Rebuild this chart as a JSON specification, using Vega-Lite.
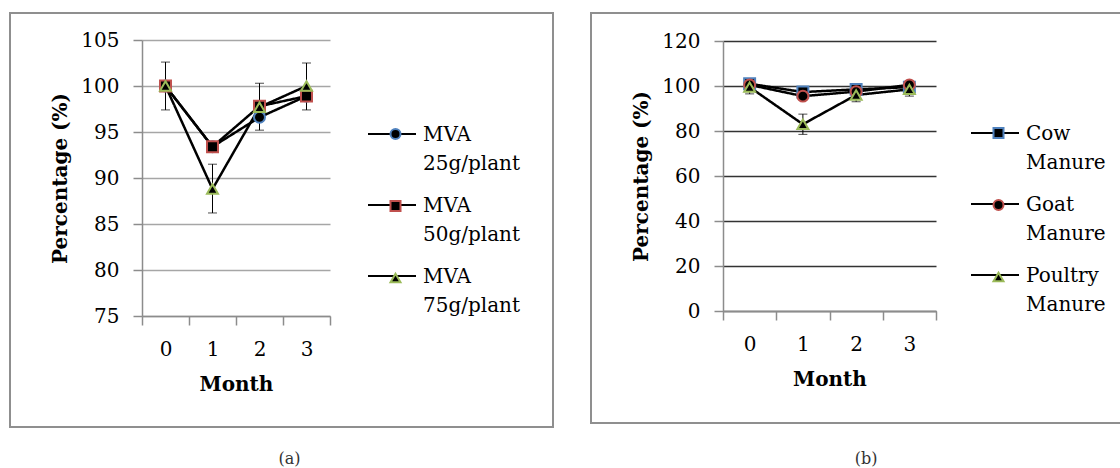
{
  "$schema": "https://vega.github.io/schema/vega-lite/v6.json",
  "padding": {"left": 9, "top": 12, "right": 0, "bottom": 0},
  "spacing": 36,
  "background": "white",
  "resolve": {
    "scale": {"x": "independent", "y": "independent", "shape": "independent", "stroke": "independent", "strokeDash": "independent"},
    "legend": {"shape": "independent", "stroke": "independent", "strokeDash": "independent"}
  },
  "datasets": {
    "a": [
      {"month": 0, "series": "MVA 25g/plant", "value": 100},
      {"month": 1, "series": "MVA 25g/plant", "value": 93.4},
      {"month": 2, "series": "MVA 25g/plant", "value": 96.6},
      {"month": 3, "series": "MVA 25g/plant", "value": 98.9},
      {"month": 0, "series": "MVA 50g/plant", "value": 100},
      {"month": 1, "series": "MVA 50g/plant", "value": 93.4},
      {"month": 2, "series": "MVA 50g/plant", "value": 97.8},
      {"month": 3, "series": "MVA 50g/plant", "value": 98.9},
      {"month": 0, "series": "MVA 75g/plant", "value": 100},
      {"month": 1, "series": "MVA 75g/plant", "value": 88.8},
      {"month": 2, "series": "MVA 75g/plant", "value": 97.7},
      {"month": 3, "series": "MVA 75g/plant", "value": 100}
    ],
    "aErr": [
      {"month": 0, "lo": 97.4, "hi": 102.6},
      {"month": 1, "lo": 86.2, "hi": 91.5},
      {"month": 2, "lo": 95.2, "hi": 100.3},
      {"month": 3, "lo": 97.4, "hi": 102.5}
    ],
    "b": [
      {"month": 0, "series": "Cow Manure", "value": 101},
      {"month": 1, "series": "Cow Manure", "value": 97.3},
      {"month": 2, "series": "Cow Manure", "value": 98.5},
      {"month": 3, "series": "Cow Manure", "value": 99.5},
      {"month": 0, "series": "Goat Manure", "value": 100.5},
      {"month": 1, "series": "Goat Manure", "value": 95.5},
      {"month": 2, "series": "Goat Manure", "value": 97.5},
      {"month": 3, "series": "Goat Manure", "value": 100.5},
      {"month": 0, "series": "Poultry Manure", "value": 99.5},
      {"month": 1, "series": "Poultry Manure", "value": 83},
      {"month": 2, "series": "Poultry Manure", "value": 96},
      {"month": 3, "series": "Poultry Manure", "value": 98.5}
    ],
    "bErr": [
      {"month": 0, "lo": 96.5, "hi": 102.5},
      {"month": 1, "lo": 78.5, "hi": 87.5},
      {"month": 2, "lo": 93, "hi": 99},
      {"month": 3, "lo": 95.5, "hi": 101.5}
    ]
  },
  "config": {
    "font": "DejaVu Serif",
    "view": {"stroke": "#8f8f8f", "strokeWidth": 2},
    "axis": {
      "labelFont": "DejaVu Serif", "labelFontSize": 20, "labelColor": "#000",
      "titleFont": "DejaVu Serif", "titleFontSize": 20, "titleFontWeight": "bold", "titleColor": "#000",
      "domainColor": "#8c8c8c", "tickColor": "#8c8c8c", "domainWidth": 1.5, "tickWidth": 1.5,
      "tickSize": 9, "labelPadding": 14, "titlePadding": 10
    },
    "axisX": {"titlePadding": 15},
    "legend": {"labelFont": "DejaVu Serif", "labelFontSize": 20, "labelColor": "#000"},
    "style": {"guide-label": {"lineHeight": 29}},
    "title": {"font": "DejaVu Serif", "fontSize": 16, "fontWeight": "normal", "color": "#333"}
  },
  "hconcat": [
    {
      "width": 543,
      "height": 414,
      "title": {"text": "(a)", "orient": "bottom", "offset": 24, "dx": 8},
      "layer": [
        {
          "data": {"name": "aErr"},
          "mark": {"type": "rule", "color": "black", "strokeWidth": 1},
          "encoding": {
            "x": {"field": "month", "type": "ordinal",
              "scale": {"type": "band", "domain": [0, 1, 2, 3], "range": [132, 320], "paddingInner": 0, "paddingOuter": 0},
              "axis": {"title": "Month", "labelAngle": 0, "tickBand": "extent", "offset": -111, "grid": false}},
            "y": {"field": "lo", "type": "quantitative",
              "scale": {"domain": [75, 105], "range": [303, 27], "nice": false, "zero": false},
              "axis": {"title": "Percentage (%)", "values": [75, 80, 85, 90, 95, 100, 105], "offset": -132, "grid": true, "gridColor": "#a6a6a6", "gridWidth": 1.5}},
            "y2": {"field": "hi"}
          }
        },
        {
          "data": {"name": "aErr"},
          "mark": {"type": "tick", "color": "black", "thickness": 1, "size": 9},
          "encoding": {"x": {"field": "month", "type": "ordinal"}, "y": {"field": "lo", "type": "quantitative"}}
        },
        {
          "data": {"name": "aErr"},
          "mark": {"type": "tick", "color": "black", "thickness": 1, "size": 9},
          "encoding": {"x": {"field": "month", "type": "ordinal"}, "y": {"field": "hi", "type": "quantitative"}}
        },
        {
          "data": {"name": "a"},
          "mark": {"type": "line", "color": "black", "strokeWidth": 2.5},
          "encoding": {
            "x": {"field": "month", "type": "ordinal"},
            "y": {"field": "value", "type": "quantitative"},
            "detail": {"field": "series", "type": "nominal"},
            "strokeDash": {"field": "series", "type": "nominal",
              "scale": {"domain": ["MVA 25g/plant", "MVA 50g/plant", "MVA 75g/plant"], "range": [[1, 0], [1, 0], [1, 0]]},
              "legend": {"orient": "none", "legendX": 357, "legendY": 103, "title": null,
                "symbolType": "M-1,-0.29H1", "symbolSize": 2304, "symbolStrokeWidth": 2, "symbolStrokeColor": "black",
                "labelExpr": "split(datum.label, ' ')", "labelBaseline": "alphabetic", "labelOffset": 6, "rowPadding": 13, "zindex": 0}}
          }
        },
        {
          "data": {"name": "a"},
          "mark": {"type": "point", "filled": true, "fill": "black", "strokeWidth": 2, "size": 120, "opacity": 1},
          "encoding": {
            "x": {"field": "month", "type": "ordinal"},
            "y": {"field": "value", "type": "quantitative"},
            "shape": {"field": "series", "type": "nominal", "scale": {"range": ["circle", "square", "triangle-up"]},
              "legend": {"orient": "none", "legendX": 375.5, "legendY": 111, "title": null, "symbolFillColor": "black", "symbolStrokeWidth": 2,
                "labelExpr": "['', '']", "labelBaseline": "alphabetic", "labelOffset": 6, "rowPadding": 23, "zindex": 1}},
            "stroke": {"field": "series", "type": "nominal", "scale": {"range": ["#4F81BD", "#C0504D", "#9BBB59"]},
              "legend": {"orient": "none", "legendX": 375.5, "legendY": 111, "title": null, "symbolFillColor": "black", "symbolStrokeWidth": 2,
                "labelExpr": "['', '']", "labelBaseline": "alphabetic", "labelOffset": 6, "rowPadding": 23, "zindex": 1}}
          }
        }
      ]
    },
    {
      "width": 530,
      "height": 410,
      "title": {"text": "(b)", "orient": "bottom", "offset": 28, "dx": 10},
      "layer": [
        {
          "data": {"name": "bErr"},
          "mark": {"type": "rule", "color": "black", "strokeWidth": 1},
          "encoding": {
            "x": {"field": "month", "type": "ordinal",
              "scale": {"type": "band", "domain": [0, 1, 2, 3], "range": [132, 345], "paddingInner": 0, "paddingOuter": 0},
              "axis": {"title": "Month", "labelAngle": 0, "tickBand": "extent", "offset": -112, "grid": false}},
            "y": {"field": "lo", "type": "quantitative",
              "scale": {"domain": [0, 120], "range": [298, 28], "nice": false},
              "axis": {"title": "Percentage (%)", "values": [0, 20, 40, 60, 80, 100, 120], "offset": -132, "grid": true, "gridColor": "#333333", "gridWidth": 1.5}},
            "y2": {"field": "hi"}
          }
        },
        {
          "data": {"name": "bErr"},
          "mark": {"type": "tick", "color": "black", "thickness": 1, "size": 9},
          "encoding": {"x": {"field": "month", "type": "ordinal"}, "y": {"field": "lo", "type": "quantitative"}}
        },
        {
          "data": {"name": "bErr"},
          "mark": {"type": "tick", "color": "black", "thickness": 1, "size": 9},
          "encoding": {"x": {"field": "month", "type": "ordinal"}, "y": {"field": "hi", "type": "quantitative"}}
        },
        {
          "data": {"name": "b"},
          "mark": {"type": "line", "color": "black", "strokeWidth": 2.5},
          "encoding": {
            "x": {"field": "month", "type": "ordinal"},
            "y": {"field": "value", "type": "quantitative"},
            "detail": {"field": "series", "type": "nominal"},
            "strokeDash": {"field": "series", "type": "nominal",
              "scale": {"domain": ["Cow Manure", "Goat Manure", "Poultry Manure"], "range": [[1, 0], [1, 0], [1, 0]]},
              "legend": {"orient": "none", "legendX": 379, "legendY": 102, "title": null,
                "symbolType": "M-1,-0.29H1", "symbolSize": 2304, "symbolStrokeWidth": 2, "symbolStrokeColor": "black",
                "labelExpr": "split(datum.label, ' ')", "labelBaseline": "alphabetic", "labelOffset": 6, "rowPadding": 13, "zindex": 0}}
          }
        },
        {
          "data": {"name": "b"},
          "mark": {"type": "point", "filled": true, "fill": "black", "strokeWidth": 2, "size": 120, "opacity": 1},
          "encoding": {
            "x": {"field": "month", "type": "ordinal"},
            "y": {"field": "value", "type": "quantitative"},
            "shape": {"field": "series", "type": "nominal", "scale": {"range": ["square", "circle", "triangle-up"]},
              "legend": {"orient": "none", "legendX": 397.5, "legendY": 110, "title": null, "symbolFillColor": "black", "symbolStrokeWidth": 2,
                "labelExpr": "['', '']", "labelBaseline": "alphabetic", "labelOffset": 6, "rowPadding": 23, "zindex": 1}},
            "stroke": {"field": "series", "type": "nominal", "scale": {"range": ["#4F81BD", "#C0504D", "#9BBB59"]},
              "legend": {"orient": "none", "legendX": 397.5, "legendY": 110, "title": null, "symbolFillColor": "black", "symbolStrokeWidth": 2,
                "labelExpr": "['', '']", "labelBaseline": "alphabetic", "labelOffset": 6, "rowPadding": 23, "zindex": 1}}
          }
        }
      ]
    }
  ]
}
